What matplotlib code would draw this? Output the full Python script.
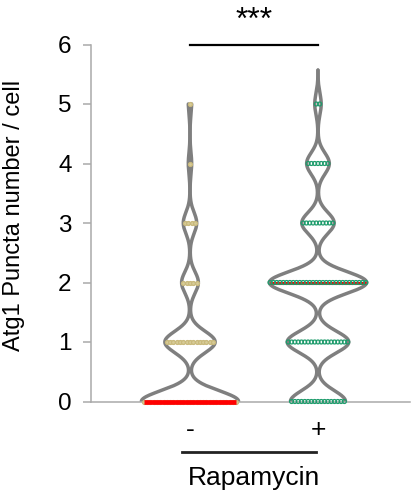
import numpy as np
import matplotlib
matplotlib.use("Agg")
import matplotlib.pyplot as plt
from matplotlib.transforms import blended_transform_factory

plt.rcParams['font.family'] = ['Liberation Sans', 'DejaVu Sans']

# ---- data ----
groups = ["-", "+"]
values = [0, 1, 2, 3, 4, 5]
counts_minus = [29, 15, 5, 4, 1, 1]
counts_plus = [17, 19, 30, 10, 7, 2]
all_counts = [counts_minus, counts_plus]
ylabel = "Atg1 Puncta number / cell"
xlabel = "Rapamycin"
sig_text = "***"
y_ticks = [0, 1, 2, 3, 4, 5, 6]

# ---- style ----
positions = [1, 2]
point_colors = ["#c9b97c", "#1e9c6c"]
point_faces = ["#d8cc98", "none"]
median_on_top = [True, False]
bw = 0.18
max_half_width = 0.38
top_extend = [0.0, 0.57]
spacing = 0.0258

fig = plt.figure(figsize=(4.12, 4.93), dpi=100)
ax = fig.add_axes([91/412, 1 - 401.5/493, 319/412, 357/493])

datasets = [np.repeat(values, c) for c in all_counts]

for i, data in enumerate(datasets):
    pos = positions[i]
    # KDE outline
    top = data.max() + top_extend[i]
    grid = np.linspace(0, top, 600)
    dens = np.exp(-0.5 * ((grid[:, None] - data[None, :]) / bw) ** 2).sum(axis=1)
    w = dens / dens.max() * max_half_width
    ax.plot(pos - w, grid, color="#7f7f7f", lw=2.5, zorder=2, solid_capstyle='round')
    ax.plot(pos + w, grid, color="#7f7f7f", lw=2.5, zorder=2, solid_capstyle='round')
    # swarm points
    xs, ys = [], []
    for v, n in zip(values, all_counts[i]):
        off = (np.arange(n) - (n - 1) / 2) * spacing
        xs.extend(pos + off)
        ys.extend([v] * n)
    ax.scatter(xs, ys, s=8, facecolors=point_faces[i], edgecolors=point_colors[i],
               linewidths=0.9, zorder=3, clip_on=False)
    # median
    med = np.median(data)
    nmed = all_counts[i][values.index(int(med))]
    half = (nmed - 1) / 2 * spacing
    ax.plot([pos - half, pos + half], [med, med], color="#ff0000",
            lw=3.4 if median_on_top[i] else 2.2,
            zorder=4 if median_on_top[i] else 2.5, solid_capstyle='butt', clip_on=False)

ax.set_xlim(0.2266, 2.719)
ax.set_ylim(0, 6)
ax.set_yticks(y_ticks)
ax.set_xticks(positions)
ax.set_xticklabels(groups)
ax.tick_params(axis='y', labelsize=17.5, length=6, width=1.1, color="#aaaaaa", pad=8)
ax.tick_params(axis='x', labelsize=19, length=0, pad=12)
for s in ["top", "right"]:
    ax.spines[s].set_visible(False)
for s in ["left", "bottom"]:
    ax.spines[s].set_color("#aaaaaa")
    ax.spines[s].set_linewidth(1.1)
ax.set_ylabel(ylabel, fontsize=17)
ax.yaxis.set_label_coords(-0.207, 0.52)

# significance bar
ax.plot(positions, [6, 6], color="black", lw=1.6, clip_on=False)
tr = blended_transform_factory(ax.transData, fig.transFigure)
fig.text(1.5, 1 - 21/493, sig_text, transform=tr, ha='center', va='center', fontsize=23)
# group underline + label
ax.plot([0.94, 1.985], [0.0832, 0.0832], transform=tr, color="#222222", lw=2.0, clip_on=False)
fig.text(1.5, 1 - 478/493, xlabel, transform=tr, ha='center', va='center', fontsize=19)

fig.savefig("out.png", dpi=100)
